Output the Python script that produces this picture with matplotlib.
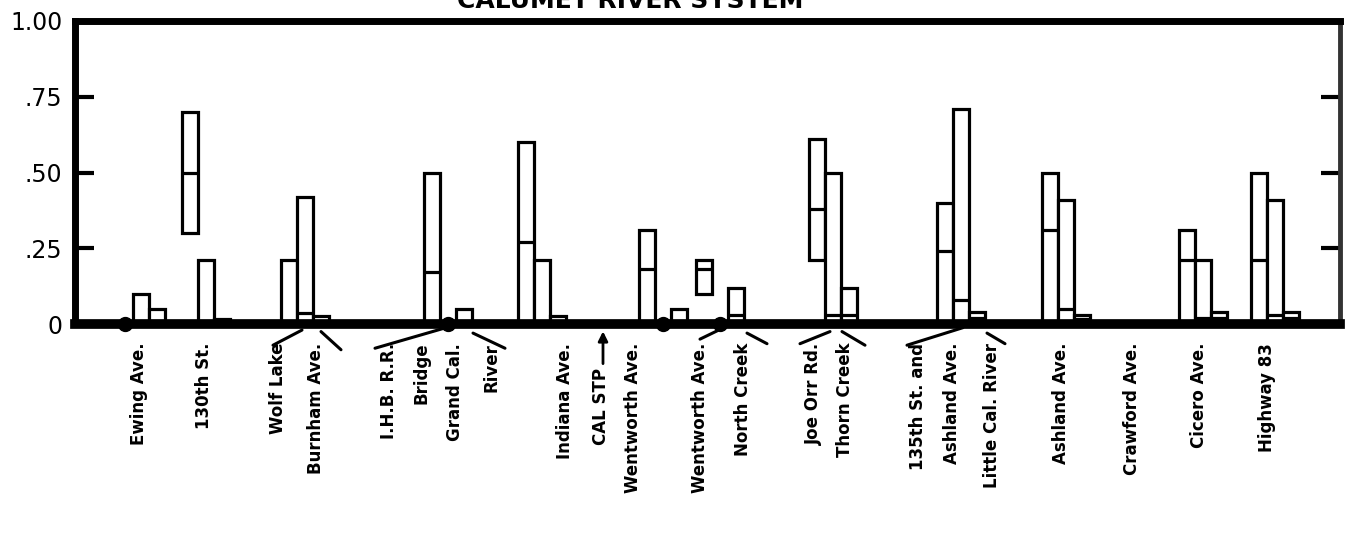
import numpy as np
import matplotlib
matplotlib.use("Agg")
import matplotlib.pyplot as plt
import matplotlib.transforms as mtransforms

nan = np.nan

# bar groups along the river (position along axis)
sites = ["Ewing Ave.", "130th St.", "Wolf Lake / Burnham Ave.",
         "I.H.B. R.R. Bridge / Grand Cal. River", "Indiana Ave.",
         "Wentworth Ave.", "Wentworth Ave. / North Creek",
         "Joe Orr Rd. / Thorn Creek",
         "135th St. and Ashland Ave. / Little Cal. River",
         "Ashland Ave.", "Crawford Ave.", "Cicero Ave.", "Highway 83"]
site_pos = [140.5, 206, 304.5, 448, 541.5, 663, 720, 832.5, 961, 1066, 1135, 1203, 1274.5]

# three bars per site: low / mid / high
a_low = [0, 0.30, 0, 0, 0, 0, 0.10, 0.21, 0, 0, nan, 0, 0]
a_mid = [0, 0.50, 0.01, 0.17, 0.27, 0.18, 0.18, 0.38, 0.24, 0.31, nan, 0.21, 0.21]
a_high = [0, 0.70, 0.21, 0.50, 0.60, 0.31, 0.21, 0.61, 0.40, 0.50, nan, 0.31, 0.50]

b_low = [0, 0, 0, 0, 0, 0, 0, 0, 0, 0, nan, 0, 0]
b_mid = [0.01, 0.01, 0.035, 0, 0.01, 0, 0, 0.03, 0.08, 0.05, nan, 0.02, 0.03]
b_high = [0.10, 0.21, 0.42, 0, 0.21, 0, 0, 0.50, 0.71, 0.41, nan, 0.21, 0.41]

c_low = [0, 0, 0, 0, 0, 0, 0, 0, 0, 0, nan, 0, 0]
c_mid = [0.01, 0.005, 0.01, 0.01, 0.01, 0.01, 0.03, 0.03, 0.02, 0.015, nan, 0.02, 0.02]
c_high = [0.05, 0.015, 0.025, 0.05, 0.025, 0.05, 0.12, 0.12, 0.04, 0.03, nan, 0.04, 0.04]

# station names written under the axis
label_text = ["Ewing Ave.", "130th St.", "Wolf Lake", "Burnham Ave.", "I.H.B. R.R.",
              "Bridge", "Grand Cal.", "River", "Indiana Ave.", "CAL STP",
              "Wentworth Ave.", "Wentworth Ave.", "North Creek", "Joe Orr Rd.",
              "Thorn Creek", "135th St. and", "Ashland Ave.", "Little Cal. River",
              "Ashland Ave.", "Crawford Ave.", "Cicero Ave.", "Highway 83"]
label_pos = [139, 204, 278, 316, 389, 421, 455, 492, 565, 601, 633, 700, 743,
             814, 845, 918, 952, 992, 1061, 1132, 1199, 1267]

yticks = [0, 0.25, 0.5, 0.75, 1.0]
yticklabels = ["0", ".25", ".50", ".75", "1.00"]

fig = plt.figure(figsize=(13.48, 5.34), dpi=100)
ax = fig.add_axes([75 / 1348, 1 - 324 / 534, (1340 - 75) / 1348, 303 / 534])
ax.set_xlim(75, 1340)
ax.set_ylim(0, 1.0)

w = 16
series = [(a_low, a_mid, a_high), (b_low, b_mid, b_high), (c_low, c_mid, c_high)]
for k, (lo, mi, hi) in enumerate(series):
    for i, x0 in enumerate(site_pos):
        if np.isnan(hi[i]):
            continue
        x = x0 + (k - 1) * w
        if hi[i] == 0:
            ax.plot(x, 0, 'o', color='black', markersize=10, clip_on=False, zorder=6)
            continue
        ax.bar(x, hi[i] - lo[i], bottom=lo[i], width=w, facecolor='white',
               edgecolor='black', linewidth=2.3, zorder=3)
        ax.hlines(mi[i], x - w / 2, x + w / 2, color='black', linewidth=2.3, zorder=4)

for s in ['top', 'left']:
    ax.spines[s].set_linewidth(5)
ax.spines['bottom'].set_linewidth(7)
ax.spines['right'].set_linewidth(3.5)
ax.spines['right'].set_color('#333333')
for s in ax.spines.values():
    s.set_zorder(5)

ax.set_xticks([])
ax.set_yticks(yticks)
ax.set_yticklabels(yticklabels, fontsize=17)
ax.tick_params(axis='y', direction='in', length=14, width=3, pad=9,
               left=True, right=True, labelright=False)

trans = mtransforms.blended_transform_factory(ax.transData, ax.transAxes)
for txt, x in zip(label_text, label_pos):
    y = -0.145 if txt == "CAL STP" else -0.062
    ax.text(x, y, txt, rotation=90, ha='center', va='top', fontsize=12,
            fontweight='bold', transform=trans)

# arrow for the treatment plant outfall
ax.annotate("", xy=(603, -0.015), xytext=(603, -0.14), xycoords=trans,
            textcoords=trans, arrowprops=dict(arrowstyle='-|>', color='black',
                                              lw=2, mutation_scale=14))

# connector strokes where tributaries join
joins = [((273, -0.07), (302, -0.02)), ((321, -0.025), (341, -0.085)),
         ((375, -0.08), (443, -0.015)), ((473, -0.03), (505, -0.08)),
         ((700, -0.05), (725, -0.01)), ((747, -0.03), (767, -0.065)),
         ((800, -0.065), (830, -0.025)), ((842, -0.025), (865, -0.07)),
         ((907, -0.07), (963, -0.012)), ((987, -0.03), (1005, -0.065))]
for p, q in joins:
    ax.plot([p[0], q[0]], [p[1], q[1]], color='black', lw=2.2, transform=trans,
            clip_on=False, solid_capstyle='round')

# title sits mostly above the page edge, as in the scan
fig.text(630 / 1348, 1 - 8 / 534, "CALUMET RIVER SYSTEM", ha='center', va='baseline',
         fontsize=18, fontweight='bold')

fig.savefig("out.png", dpi=100)
